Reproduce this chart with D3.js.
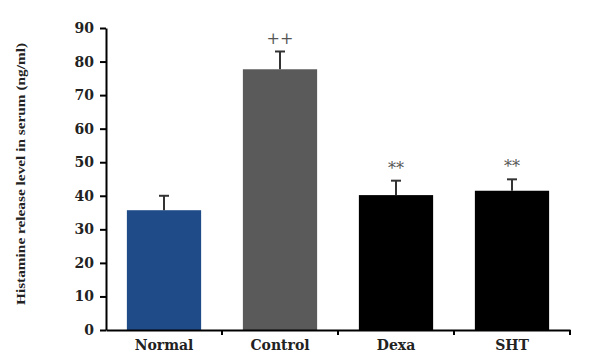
<!DOCTYPE html>
<html>
<head>
<meta charset="utf-8">
<script src="https://cdn.jsdelivr.net/npm/d3@7"></script>
<style>
  body { margin: 0; background: #fff; }
  text { font-family: "DejaVu Serif", "Liberation Serif", serif; font-weight: bold; }
</style>
</head>
<body>
<div id="chart"></div>
<script>
// values
const groups = ["Normal", "Control", "Dexa", "SHT"];
const means = [35.7, 77.7, 40.2, 41.5];
const errors = [4.3, 5.3, 4.3, 3.4];
const marks = ["", "++", "**", "**"];
const colors = ["#1f4c88", "#5a5a5a", "#000000", "#000000"];
const yTicks = [0, 10, 20, 30, 40, 50, 60, 70, 80, 90];

let width = 592, height = 357,
    margin = ({ top: 28, right: 22, bottom: 27, left: 106 });

const svg = d3.select("#chart")
  .append("svg")
  .attr("width", width)
  .attr("height", height);

let x = d3.scaleBand()
  .domain(groups)
  .range([margin.left, width - margin.right])
  .paddingInner(0.36)
  .paddingOuter(0.18);

let y = d3.scaleLinear()
  .domain([0, 90])
  .range([height - margin.bottom, margin.top]);

let data = groups.map((g, i) => ({ g, m: means[i], e: errors[i], s: marks[i], c: colors[i] }));

// bars
svg.selectAll("rect.bar")
  .data(data)
  .join("rect")
  .attr("class", "bar")
  .attr("x", d => x(d.g))
  .attr("y", d => y(d.m))
  .attr("width", x.bandwidth())
  .attr("height", d => y(0) - y(d.m))
  .attr("fill", d => d.c);

// error bars (upper only)
let cx = d => x(d.g) + x.bandwidth() / 2;
let eg = svg.append("g").attr("stroke", "#333").attr("stroke-width", 2);
eg.selectAll("line.stem")
  .data(data)
  .join("line")
  .attr("x1", cx).attr("x2", cx)
  .attr("y1", d => y(d.m)).attr("y2", d => y(d.m + d.e));
eg.selectAll("line.cap")
  .data(data)
  .join("line")
  .attr("x1", d => cx(d) - 5).attr("x2", d => cx(d) + 5)
  .attr("y1", d => y(d.m + d.e)).attr("y2", d => y(d.m + d.e));

// significance marks
svg.selectAll("text.sig")
  .data(data)
  .join("text")
  .attr("class", "sig")
  .attr("x", cx)
  .attr("y", d => y(d.m + d.e) - 7)
  .attr("text-anchor", "middle")
  .attr("font-size", 16)
  .attr("fill", "#555")
  .style("font-weight", "normal")
  .text(d => d.s);

// y axis
let yAxis = svg.append("g")
  .attr("transform", `translate(${margin.left},0)`)
  .call(d3.axisLeft(y).tickValues(yTicks).tickSize(6).tickSizeOuter(0).tickPadding(6));
yAxis.selectAll("text").attr("font-size", 14).attr("fill", "#222");
yAxis.selectAll("path, line").attr("stroke", "#000").attr("stroke-width", 2);

// x axis: labels under bands, ticks at band edges
let xAxis = svg.append("g")
  .attr("transform", `translate(0,${y(0)})`)
  .call(d3.axisBottom(x).tickSize(0).tickSizeOuter(0).tickPadding(10));
xAxis.selectAll("text").attr("font-size", 14).attr("fill", "#222");
xAxis.select(".domain").attr("stroke", "#000").attr("stroke-width", 2);

let edges = groups.map(g => x(g) + x.bandwidth() + x.step() * x.paddingInner() / 2);
edges[edges.length - 1] = width - margin.right;
svg.append("g")
  .selectAll("line")
  .data(edges)
  .join("line")
  .attr("x1", d => d).attr("x2", d => d)
  .attr("y1", y(0)).attr("y2", y(0) + 5)
  .attr("stroke", "#000").attr("stroke-width", 2);

// y label
svg.append("text")
  .attr("transform", `translate(25,174) rotate(-90)`)
  .attr("text-anchor", "middle")
  .attr("font-size", 13)
  .attr("fill", "#222")
  .attr("textLength", 262)
  .attr("lengthAdjust", "spacingAndGlyphs")
  .style("font-family", "'Liberation Serif', serif")
  .text("Histamine release level in serum (ng/ml)");
</script>
</body>
</html>
